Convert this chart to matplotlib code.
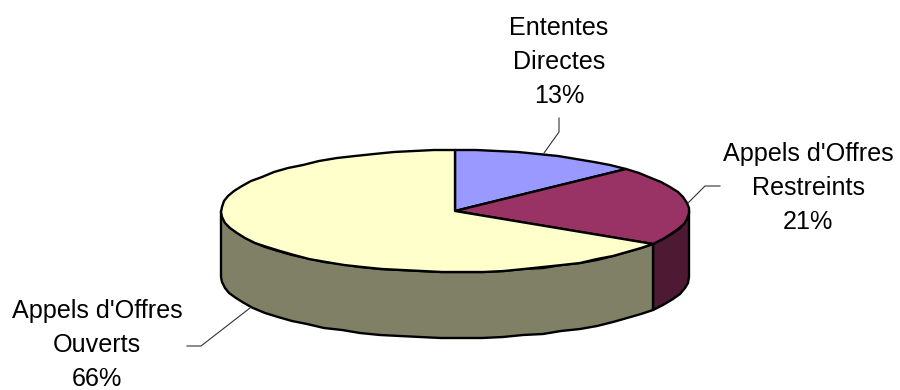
#!/usr/bin/env python3
"""Tilted 3D-style pie of procurement types with leader-line labels."""

import numpy as np
import matplotlib.pyplot as plt
from matplotlib.patches import Polygon

categories = ["Ententes\nDirectes", "Appels d'Offres\nRestreints", "Appels d'Offres\nOuverts"]
shares = [13, 21, 66]

top_colors = ['#9999FF', '#993366', '#FFFFCC']
side_colors = ['#4D4D80', '#4D1933', '#808066']

# pie geometry, in pixels
CX, CY = 455, 211
RX, RY = 234, 61
DEPTH = 66

label_pos = [(559, 62), (808, 188), (97, 345)]
leaders = [
    [(559, 118), (559, 132), (544, 153)],
    [(720, 186), (705, 186), (688, 203)],
    [(187, 346), (201, 346), (250, 308)],
]


def rim(a0, a1, drop=0):
    """Points on the pie rim, angles in degrees clockwise from 12 o'clock."""
    n = max(int(abs(a1 - a0) / 5), 1)
    t = np.radians(np.linspace(a0, a1, n + 1))
    x = CX + RX * np.sin(t)
    y = CY - RY * np.cos(t) + drop
    return np.column_stack([np.round(x), np.round(y)])


fig = plt.figure(figsize=(9, 3.9), dpi=100)
ax = fig.add_axes([0, 0, 1, 1])
ax.set_xlim(0, 900)
ax.set_ylim(390, 0)
ax.axis('off')

edges = np.cumsum([0] + shares) * 3.6

# outer wall, only the part of the rim facing the viewer
for i in range(len(shares)):
    a0, a1 = max(edges[i], 90), min(edges[i + 1], 270)
    if a1 <= a0:
        continue
    wall = np.vstack([rim(a0, a1), rim(a1, a0, DEPTH)])
    ax.add_patch(Polygon(wall, closed=True, facecolor=side_colors[i],
                         edgecolor='black', linewidth=1.7, joinstyle='round'))

# top face
for i in range(len(shares)):
    pts = np.vstack([[(CX, CY)], rim(edges[i], edges[i + 1])])
    ax.add_patch(Polygon(pts, closed=True, facecolor=top_colors[i],
                         edgecolor='black', linewidth=1.7, joinstyle='round'))

for pts in leaders:
    xs, ys = zip(*pts)
    ax.plot(xs, ys, color='#333333', linewidth=0.8)

for name, share, (x, y) in zip(categories, shares, label_pos):
    ax.text(x, y, f"{name}\n{share}%", ha='center', va='center', color='black',
            family='Liberation Sans', fontsize=18.1, linespacing=1.52)

plt.savefig("out.png", dpi=100)
plt.close()
